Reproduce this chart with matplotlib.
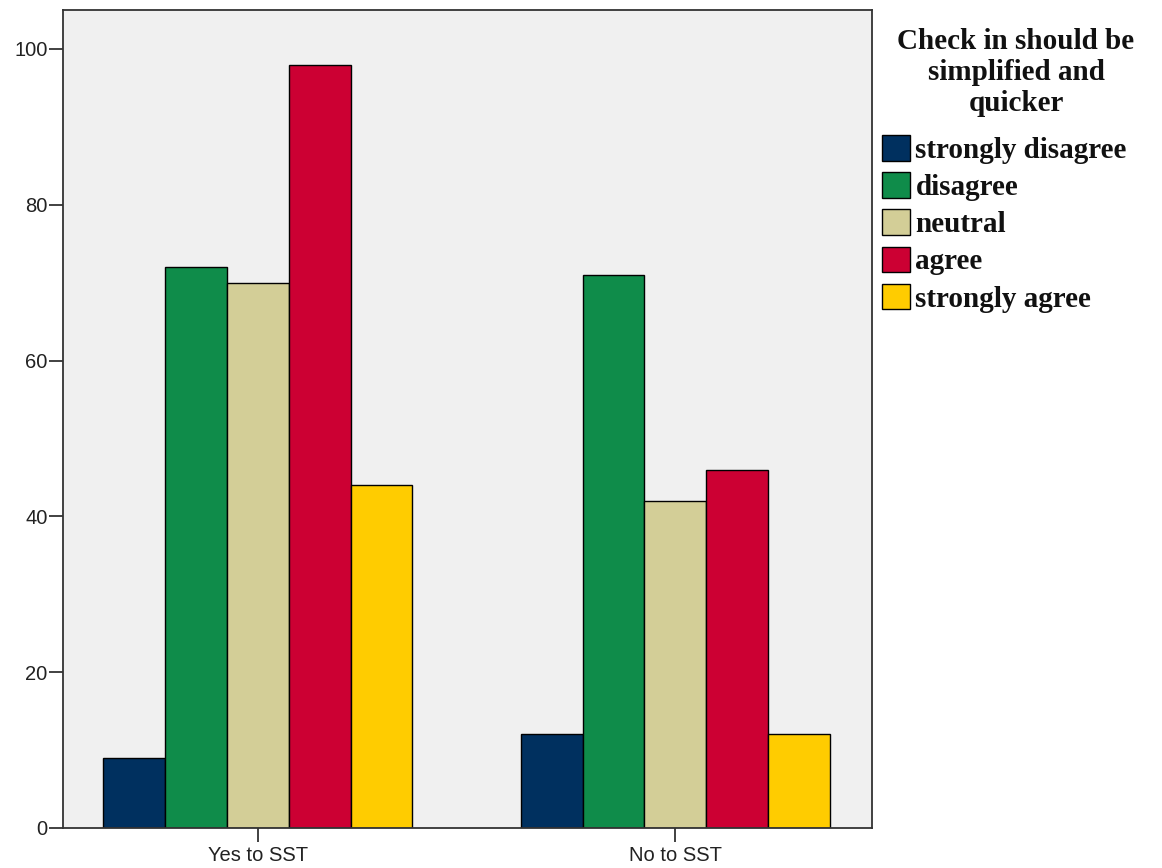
import matplotlib
matplotlib.use("Agg")
from matplotlib import pyplot as plt
import numpy as np

groups = ["Yes to SST", "No to SST"]
responses = ["strongly disagree", "disagree", "neutral", "agree", "strongly agree"]
yes_counts = [9, 72, 70, 98, 44]
no_counts = [12, 71, 42, 46, 12]
colors = ["#00305F", "#0F8C4A", "#D3CE97", "#CC0033", "#FFCC00"]
yticks = [0, 20, 40, 60, 80, 100]
legend_title = "Check in should be\nsimplified and\nquicker"

counts = np.array([yes_counts, no_counts])

fig = plt.figure(figsize=(11.62, 8.68), dpi=100)
ax = fig.add_axes([0.0542, 0.0461, 0.6962, 0.9424])
ax.set_facecolor("#F0F0F0")

width = 0.148
x = np.arange(len(groups))
for i, resp in enumerate(responses):
    ax.bar(x + (i - 2) * width, counts[:, i], width, color=colors[i],
           edgecolor="black", linewidth=1.0, label=resp)

ax.set_xlim(-0.467, 1.471)
ax.set_ylim(0, 105)
ax.set_xticks(x)
ax.set_xticklabels(groups)
ax.set_yticks(yticks)
ax.tick_params(axis="both", direction="out", labelsize=14.5, width=1.3,
               length=10, color="#333333")
ax.tick_params(axis="y", pad=1)
ax.tick_params(axis="x", pad=3)
for lab in ax.get_xticklabels() + ax.get_yticklabels():
    lab.set_family("Liberation Sans")
    lab.set_color("#222222")
for s in ax.spines.values():
    s.set_linewidth(1.3)
    s.set_color("#333333")

serif_bold = {"family": "Liberation Serif", "weight": "bold", "size": 21}
fig.text(1016 / 1162, 1 - 28 / 868, legend_title, ha="center", va="top",
         multialignment="center", linespacing=1.2, color="#111111", **serif_bold)
handles, labels = ax.get_legend_handles_labels()
leg = fig.legend(handles, labels, loc="upper left",
                 bbox_to_anchor=(0.759, 1 - 135 / 868),
                 prop=serif_bold, frameon=False,
                 handlelength=0.97, handleheight=0.97,
                 handletextpad=0.18, labelspacing=0.29, borderaxespad=0,
                 borderpad=0)
for t in leg.get_texts():
    t.set_color("#111111")

fig.savefig("out.png", dpi=100, facecolor="white")
